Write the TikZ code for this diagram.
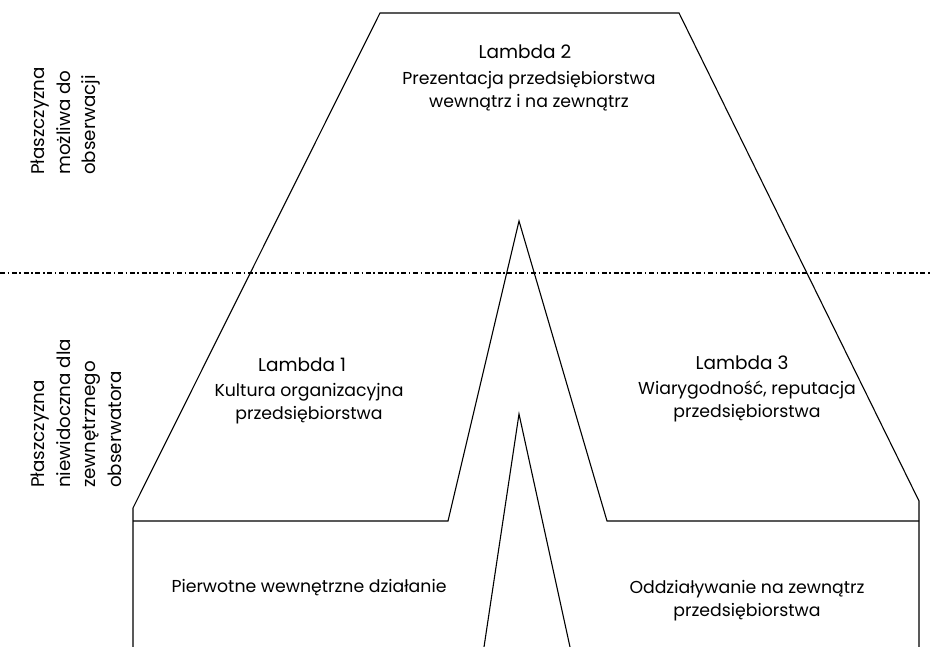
\documentclass[tikz,border=0pt]{standalone}
\usepackage{fontspec}
\setmainfont{Poppins}
\begin{document}
\begin{tikzpicture}[x=1pt,y=-1pt,
  edge/.style={line width=1.1pt, line join=miter},
  boundary/.style={line width=1.8pt, dash pattern=on 5pt off 2.6pt on 1.6pt off 2.6pt},
  title/.style={inner sep=0pt, font=\fontsize{18.5}{21}\selectfont},
  body/.style={inner sep=0pt, align=center, font=\fontsize{17.3}{22.5}\selectfont},
  side/.style={inner sep=0pt, align=left, rotate=90, anchor=north west,
               font=\fontsize{18.3}{25.5}\selectfont}]
  \useasboundingbox (0,0) rectangle (931,647);

  % outline of the layered shape
  \coordinate (lb) at (133,647);
  \coordinate (lc) at (133,508);
  \coordinate (tl) at (380,13);
  \coordinate (tr) at (679,13);
  \coordinate (rc) at (919,501);
  \coordinate (rb) at (919,647);
  \draw[edge] (lb) -- (lc) -- (tl) -- (tr) -- (rc) -- (rb);

  % ground line with the inner peak
  \coordinate (gl) at (133,521);
  \coordinate (pl) at (448,521);
  \coordinate (p1) at (519,221);
  \coordinate (pr) at (607,521);
  \coordinate (gr) at (919,521);
  \draw[edge] (gl) -- (pl) -- (p1) -- (pr) -- (gr);

  % lower peak
  \coordinate (ql) at (484,647);
  \coordinate (p2) at (519,414);
  \coordinate (qr) at (570,647);
  \draw[edge] (ql) -- (p2) -- (qr);

  % observation boundary
  \coordinate (bl) at (0,273);
  \coordinate (br) at (931,273);
  \draw[boundary] (bl) -- (br);

  % labels
  \node[title] (l2) at (525,52) {Lambda 2};
  \node[body]  (l2t) at (529,91) {Prezentacja przedsiębiorstwa\\wewnątrz i na zewnątrz};
  \node[title] (l1) at (302,365) {Lambda 1};
  \node[body]  (l1t) at (309,403.5) {Kultura organizacyjna\\przedsiębiorstwa};
  \node[title] (l3) at (742,363) {Lambda 3};
  \node[body]  (l3t) at (747,401.5) {Wiarygodność, reputacja\\przedsiębiorstwa};
  \node[body]  (inner) at (309,588) {Pierwotne wewnętrzne działanie};
  \node[body]  (outer) at (747,600.5) {Oddziaływanie na zewnątrz\\przedsiębiorstwa};

  \node[side] (vis) at (31,175) {Płaszczyzna\\możliwa do\\obserwacji};
  \node[side] (hid) at (31,488) {Płaszczyzna\\niewidoczna dla\\zewnętrznego\\obserwatora};
\end{tikzpicture}
\end{document}
